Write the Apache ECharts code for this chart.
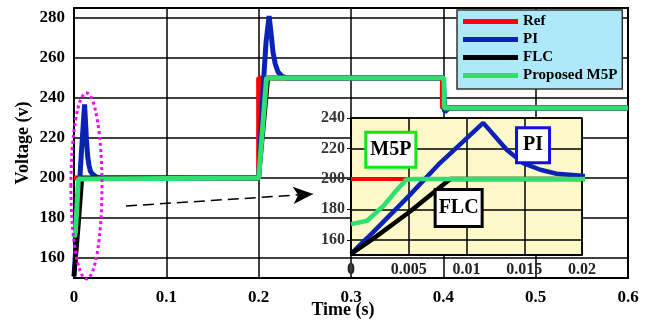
<!DOCTYPE html>
<html>
<head>
<meta charset="utf-8">
<script src="https://cdn.jsdelivr.net/npm/echarts@6/dist/echarts.min.js"></script>
<style>
  html, body { margin: 0; padding: 0; background: #fff; }
  #main { width: 654px; height: 320px; }
</style>
</head>
<body>
<div id="main"></div>
<script>
// signals (time in s, voltage in V) - same data feeds the main plot and the zoomed inset
var refT = [0, 0.2, 0.2, 0.399, 0.399, 0.6]
var refV = [200, 200, 250, 250, 235, 235]

var piT = [0, 0.0019, 0.005, 0.0077, 0.01145, 0.0125, 0.0135, 0.0149, 0.0164, 0.0178, 0.02, 0.024, 0.03,
           0.2, 0.203, 0.2055, 0.208, 0.2113, 0.2135, 0.2155, 0.218, 0.221, 0.225, 0.23,
           0.4, 0.4008, 0.4015, 0.403, 0.406, 0.41, 0.6]
var piV = [150.8, 164.9, 188.7, 210.4, 236.8, 227.7, 219, 210.4, 206, 203.4, 202, 200.5, 200,
           200, 228, 250, 268, 281, 272, 263, 257, 253, 251, 250,
           250, 240, 233, 233.5, 235, 235, 235]

var flcT = [0, 0.0019, 0.005, 0.0086, 0.2, 0.21, 0.4, 0.4012, 0.6]
var flcV = [150.8, 160.6, 177.9, 200, 200, 250, 250, 235, 235]

var m5pT = [0, 0.0014, 0.0028, 0.004, 0.0048, 0.0055, 0.2, 0.2085, 0.4005, 0.401, 0.6]
var m5pV = [170.3, 172.5, 182.2, 193, 199.5, 200, 200, 250, 250, 235, 235]

var names = ['Ref', 'PI', 'FLC', 'Proposed M5P']
var colors = ['#ff0000', '#0a23b4', '#000000', '#2fe070']

var FONT = 'Liberation Serif'

function pairs (t, v) {
  return t.map(function (x, i) { return [x, v[i]] })
}
var series_data = [pairs(refT, refV), pairs(piT, piV), pairs(flcT, flcV), pairs(m5pT, m5pV)]

function fmt (v) {
  return String(parseFloat(v.toFixed(4)))
}
function fmt20 (v) {
  return Math.abs(v % 20) < 1e-6 ? String(v) : ''
}

var lbl = { fontFamily: FONT, fontWeight: 'bold', color: '#000' }

var series = []
for (var i = 0; i < 4; i++) {
  series.push({
    name: names[i], type: 'line', xAxisIndex: 0, yAxisIndex: 0,
    data: series_data[i], showSymbol: false, symbol: 'none',
    lineStyle: { color: colors[i], width: i == 2 ? 4.5 : 5 },
    itemStyle: { color: colors[i] },
    z: 2
  })
}
for (var j = 0; j < 4; j++) {
  series.push({
    name: names[j], type: 'line', xAxisIndex: 1, yAxisIndex: 1,
    data: series_data[j], showSymbol: false, symbol: 'none',
    lineStyle: { color: colors[j], width: j == 0 ? 4 : 4.5 },
    itemStyle: { color: colors[j] },
    z: 5
  })
}
// dashed arrow pointing to the zoomed area
series[0].markLine = {
  silent: true,
  symbol: ['none', 'arrow'],
  symbolSize: [13, 20],
  label: { show: false },
  lineStyle: { color: '#000', width: 1.5, type: [11, 6] },
  data: [[{ coord: [0.0563, 186] }, { coord: [0.259, 192] }]]
}

var option = {
  animation: false,
  backgroundColor: '#fff',
  grid: [
    { left: 74, right: 26, top: 8, bottom: 42, outerBoundsMode: 'none', show: true, backgroundColor: '#fff', borderColor: '#000', borderWidth: 2 },
    { left: 351, top: 118, width: 231, height: 137, outerBoundsMode: 'none', show: true, backgroundColor: '#fdf9c9', borderColor: '#000', borderWidth: 1.5, z: 3 }
  ],
  legend: {
    data: names,
    orient: 'vertical',
    left: 457, top: 10,
    icon: 'rect',
    itemWidth: 55, itemHeight: 5, itemGap: 3,
    padding: [4, 5, 6, 6],
    backgroundColor: '#aee9f9',
    borderColor: '#333', borderWidth: 1.5,
    textStyle: { fontFamily: FONT, fontWeight: 'bold', fontSize: 15, color: '#000', lineHeight: 15 },
    selectedMode: false,
    z: 6
  },
  xAxis: [
    {
      gridIndex: 0, type: 'value', min: 0, max: 0.6, interval: 0.1,
      name: 'Time (s)', nameLocation: 'middle', nameGap: 23, nameMoveOverlap: false,
      nameTextStyle: { fontFamily: FONT, fontWeight: 'bold', fontSize: 18, color: '#000', padding: [0, 16, 0, 0] },
      axisLine: { show: true, lineStyle: { color: '#000', width: 2 } },
      axisTick: { show: false },
      axisLabel: Object.assign({ fontSize: 17, margin: 11, formatter: fmt }, lbl),
      splitLine: { show: true, lineStyle: { color: '#000', width: 1.5 } }
    },
    {
      gridIndex: 1, type: 'value', min: 0, max: 0.02, interval: 0.005, z: 4,
      axisLine: { show: true, lineStyle: { color: '#000', width: 1.5 } },
      axisTick: { show: false },
      axisLabel: Object.assign({ fontSize: 16, margin: 7, formatter: fmt }, lbl, { color: '#222' }),
      splitLine: { show: true, lineStyle: { color: '#000', width: 1.5 } }
    }
  ],
  yAxis: [
    {
      gridIndex: 0, type: 'value', min: 150, max: 285, splitNumber: 7,
      name: 'Voltage (v)', nameLocation: 'middle', nameGap: 42, nameMoveOverlap: false,
      nameTextStyle: { fontFamily: FONT, fontWeight: 'bold', fontSize: 18, color: '#000' },
      axisLine: { show: true, lineStyle: { color: '#000', width: 2 } },
      axisTick: { show: false },
      axisLabel: Object.assign({ fontSize: 17, margin: 9, showMinLabel: false, showMaxLabel: false, formatter: fmt20 }, lbl),
      splitLine: { show: true, lineStyle: { color: '#000', width: 1.5 } }
    },
    {
      gridIndex: 1, type: 'value', min: 150, max: 240, splitNumber: 5, z: 4,
      axisLine: { show: true, lineStyle: { color: '#000', width: 1.5 } },
      axisTick: { show: true, length: 4, lineStyle: { color: '#000' } },
      axisLabel: Object.assign({ fontSize: 16, margin: 6, showMinLabel: false, formatter: fmt20 }, lbl, { color: '#333' }),
      splitLine: { show: true, lineStyle: { color: '#000', width: 1.5 } }
    }
  ],
  series: series
}

var chart = echarts.init(document.getElementById('main'))
chart.setOption(option)

// annotations: dotted ellipse round the start-up transient and the inset tags
var ec = chart.convertToPixel({ gridIndex: 0 }, [0.0135, 196])
var pM = chart.convertToPixel({ gridIndex: 1 }, [0.00345, 219.2])
var pP = chart.convertToPixel({ gridIndex: 1 }, [0.01576, 222.1])
var pF = chart.convertToPixel({ gridIndex: 1 }, [0.00932, 180.8])

function tag (p, txt, border, pad) {
  return {
    type: 'text', x: p[0], y: p[1], z: 20,
    style: {
      text: txt, font: 'bold 20px "Liberation Serif"', fill: '#000',
      align: 'center', verticalAlign: 'middle',
      backgroundColor: '#fff', borderColor: border, borderWidth: 3, padding: pad
    }
  }
}

chart.setOption({
  graphic: [
    {
      type: 'ellipse', z: 20, silent: true,
      shape: { cx: ec[0], cy: ec[1], rx: 15.5, ry: 93 },
      style: { fill: 'transparent', stroke: '#ff00ff', lineWidth: 3, lineDash: [3, 3] }
    },
    tag(pM, 'M5P', '#14e614', [6, 3, 6, 3]),
    tag(pP, 'PI', '#1010e6', [6, 5, 6, 5]),
    tag(pF, 'FLC', '#000', [7, 2, 7, 2])
  ]
})
</script>
</body>
</html>
